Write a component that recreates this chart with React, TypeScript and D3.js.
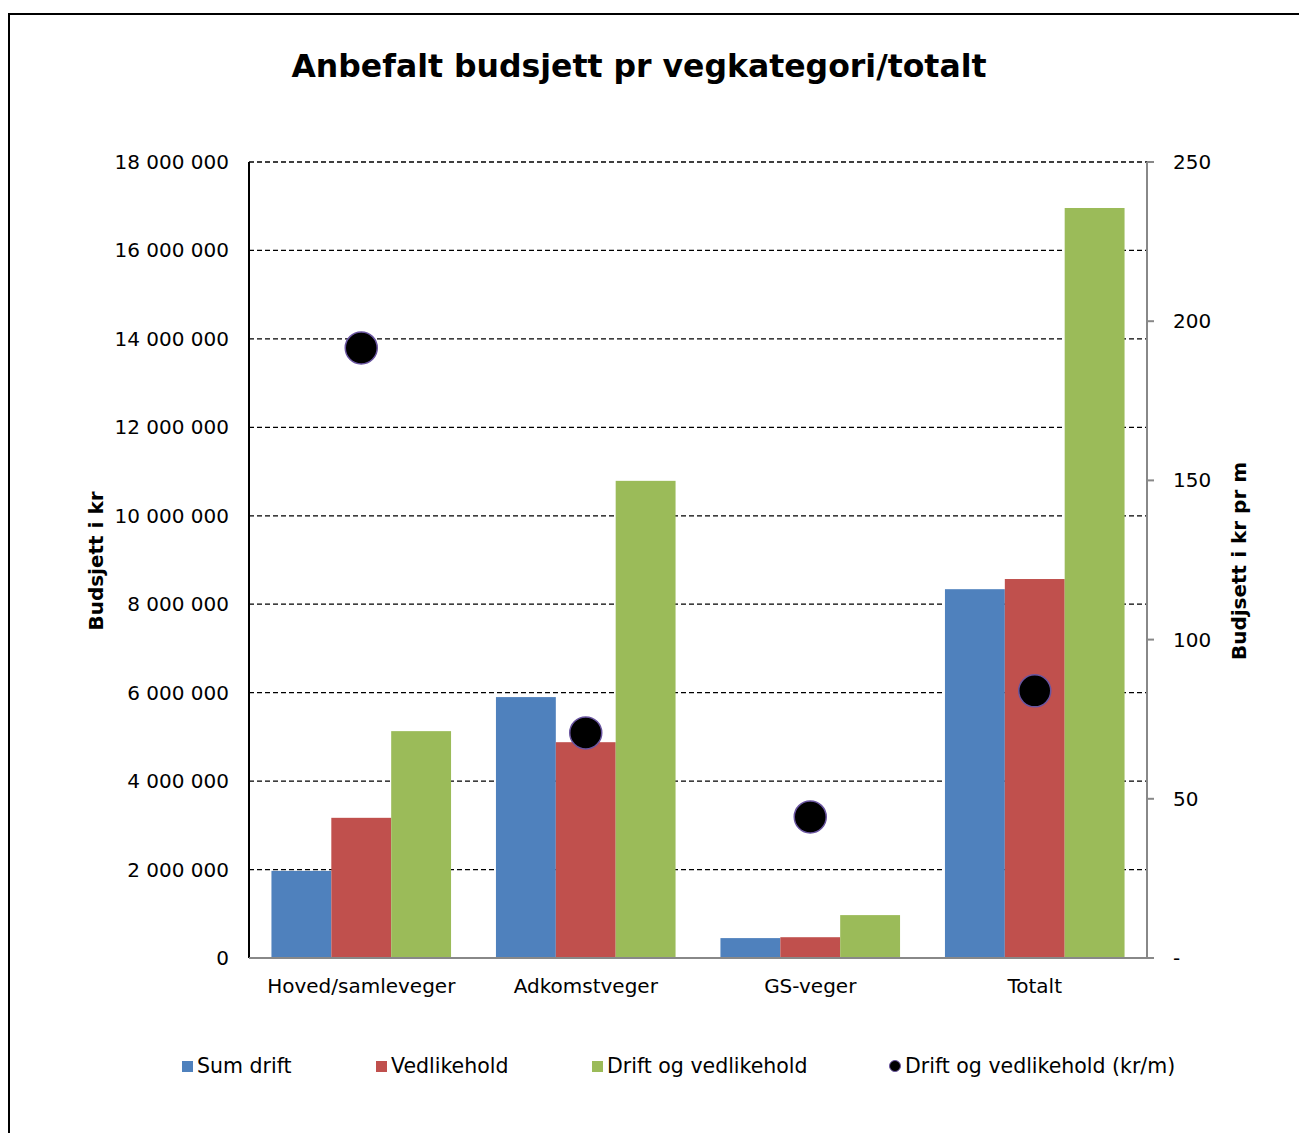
import React, { useEffect, useRef } from 'react';
import * as d3 from 'd3';

const categories = ['Hoved/samleveger', 'Adkomstveger', 'GS-veger', 'Totalt'];
const seriesNames = ['Sum drift', 'Vedlikehold', 'Drift og vedlikehold'];
const sumDrift = [1970000, 5900000, 450000, 8340000];
const vedlikehold = [3170000, 4880000, 470000, 8570000];
const driftOgVedlikehold = [5130000, 10790000, 970000, 16960000];
const krPrMeter = [191.6, 70.7, 44.3, 83.9];
const leftTicks = [0, 2000000, 4000000, 6000000, 8000000, 10000000, 12000000, 14000000, 16000000, 18000000];
const rightTicks = [0, 50, 100, 150, 200, 250];
const colors = ['#4F81BD', '#C0504D', '#9BBB59'];

export default function App() {
  const svgRef = useRef<SVGSVGElement>(null);

  useEffect(() => {
    if (!svgRef.current) return;
    const svg = d3.select(svgRef.current);
    const width = 1299;
    const height = 1133;
    const margin = { top: 162, right: 152, bottom: 175, left: 249 };
    const font = '"DejaVu Sans", Verdana, sans-serif';

    svg.selectAll('*').remove();
    svg.attr('width', width).attr('height', height).attr('viewBox', [0, 0, width, height]);

    // outer frame
    svg.append('rect')
      .attr('x', 9).attr('y', 14)
      .attr('width', width).attr('height', height)
      .attr('fill', 'white').attr('stroke', 'black').attr('stroke-width', 2);

    const x0 = d3.scaleBand<string>()
      .domain(categories)
      .range([margin.left, width - margin.right])
      .paddingInner(0.2)
      .paddingOuter(0.1);
    const x1 = d3.scaleBand<number>()
      .domain([0, 1, 2])
      .range([0, x0.bandwidth()]);
    const y = d3.scaleLinear().domain([0, 18000000]).range([height - margin.bottom, margin.top]);
    const y2 = d3.scaleLinear().domain([0, 250]).range([height - margin.bottom, margin.top]);

    const fmt = (v: number) => d3.format(',')(v).replace(/,/g, ' ');

    // gridlines
    svg.append('g')
      .selectAll('line')
      .data(leftTicks.slice(1))
      .enter()
      .append('line')
      .attr('x1', margin.left).attr('x2', width - margin.right)
      .attr('y1', d => y(d)).attr('y2', d => y(d))
      .attr('stroke', 'black').attr('stroke-width', 1.3)
      .attr('stroke-dasharray', '5,3');

    // bars
    const series = [sumDrift, vedlikehold, driftOgVedlikehold];
    const groups = svg.append('g')
      .selectAll('g')
      .data(categories)
      .enter()
      .append('g')
      .attr('transform', d => `translate(${x0(d)},0)`);
    groups.selectAll('rect')
      .data((_, i) => series.map((s, k) => ({ k, v: s[i] })))
      .enter()
      .append('rect')
      .attr('x', d => x1(d.k)!)
      .attr('width', x1.bandwidth())
      .attr('y', d => y(d.v))
      .attr('height', d => y(0) - y(d.v))
      .attr('fill', d => colors[d.k]);

    // left axis
    svg.append('line')
      .attr('x1', margin.left).attr('x2', margin.left)
      .attr('y1', margin.top).attr('y2', y(0))
      .attr('stroke', 'black').attr('stroke-width', 2);
    svg.append('g')
      .selectAll('text')
      .data(leftTicks)
      .enter()
      .append('text')
      .attr('x', 229).attr('y', d => y(d))
      .attr('dy', '0.35em')
      .attr('text-anchor', 'end')
      .attr('font-family', font).attr('font-size', 20)
      .text(d => fmt(d));

    // right axis
    svg.append('line')
      .attr('x1', width - margin.right).attr('x2', width - margin.right)
      .attr('y1', margin.top).attr('y2', y(0))
      .attr('stroke', '#888').attr('stroke-width', 2);
    svg.append('g')
      .selectAll('line')
      .data(rightTicks)
      .enter()
      .append('line')
      .attr('x1', width - margin.right).attr('x2', width - margin.right + 7)
      .attr('y1', d => y2(d)).attr('y2', d => y2(d))
      .attr('stroke', '#888').attr('stroke-width', 2);
    svg.append('g')
      .selectAll('text')
      .data(rightTicks)
      .enter()
      .append('text')
      .attr('x', 1173).attr('y', d => y2(d))
      .attr('dy', '0.35em')
      .attr('font-family', font).attr('font-size', 20)
      .text(d => (d === 0 ? '-' : String(d)));

    // bottom axis
    svg.append('line')
      .attr('x1', margin.left).attr('x2', width - margin.right + 7)
      .attr('y1', y(0)).attr('y2', y(0))
      .attr('stroke', '#888').attr('stroke-width', 2);
    svg.append('g')
      .selectAll('text')
      .data(categories)
      .enter()
      .append('text')
      .attr('x', d => x0(d)! + x0.bandwidth() / 2)
      .attr('y', 993)
      .attr('text-anchor', 'middle')
      .attr('font-family', font).attr('font-size', 20)
      .text(d => d);

    // dots (secondary axis)
    svg.append('g')
      .selectAll('circle')
      .data(categories)
      .enter()
      .append('circle')
      .attr('cx', d => x0(d)! + x0.bandwidth() / 2)
      .attr('cy', (_, i) => y2(krPrMeter[i]))
      .attr('r', 16)
      .attr('fill', 'black')
      .attr('stroke', '#6a55a0').attr('stroke-width', 1.5);

    // title
    svg.append('text')
      .attr('x', 639).attr('y', 77)
      .attr('text-anchor', 'middle')
      .attr('font-family', font).attr('font-size', 31.5).attr('font-weight', 'bold')
      .text('Anbefalt budsjett pr vegkategori/totalt');

    // axis titles
    svg.append('text')
      .attr('transform', `translate(103,561) rotate(-90)`)
      .attr('text-anchor', 'middle')
      .attr('font-family', font).attr('font-size', 20).attr('font-weight', 'bold')
      .text('Budsjett i kr');
    svg.append('text')
      .attr('transform', `translate(1246,561) rotate(-90)`)
      .attr('text-anchor', 'middle')
      .attr('font-family', font).attr('font-size', 20).attr('font-weight', 'bold')
      .text('Budjsett i kr pr m');

    // legend
    const legendX = [182, 376, 592];
    seriesNames.forEach((name, k) => {
      svg.append('rect')
        .attr('x', legendX[k]).attr('y', 1061)
        .attr('width', 11).attr('height', 11)
        .attr('fill', colors[k]);
      svg.append('text')
        .attr('x', legendX[k] + 15).attr('y', 1073)
        .attr('font-family', font).attr('font-size', 20.5)
        .text(name);
    });
    svg.append('circle')
      .attr('cx', 895).attr('cy', 1066).attr('r', 5.5)
      .attr('fill', 'black').attr('stroke', '#6a55a0').attr('stroke-width', 1);
    svg.append('text')
      .attr('x', 905).attr('y', 1073)
      .attr('font-family', font).attr('font-size', 20.5)
      .text('Drift og vedlikehold (kr/m)');
  }, []);

  return (
    <div style={{ position: 'absolute', left: 0, top: 0, width: 1299, height: 1133, overflow: 'hidden' }}>
      <svg ref={svgRef} style={{ display: 'block' }} />
    </div>
  );
}
